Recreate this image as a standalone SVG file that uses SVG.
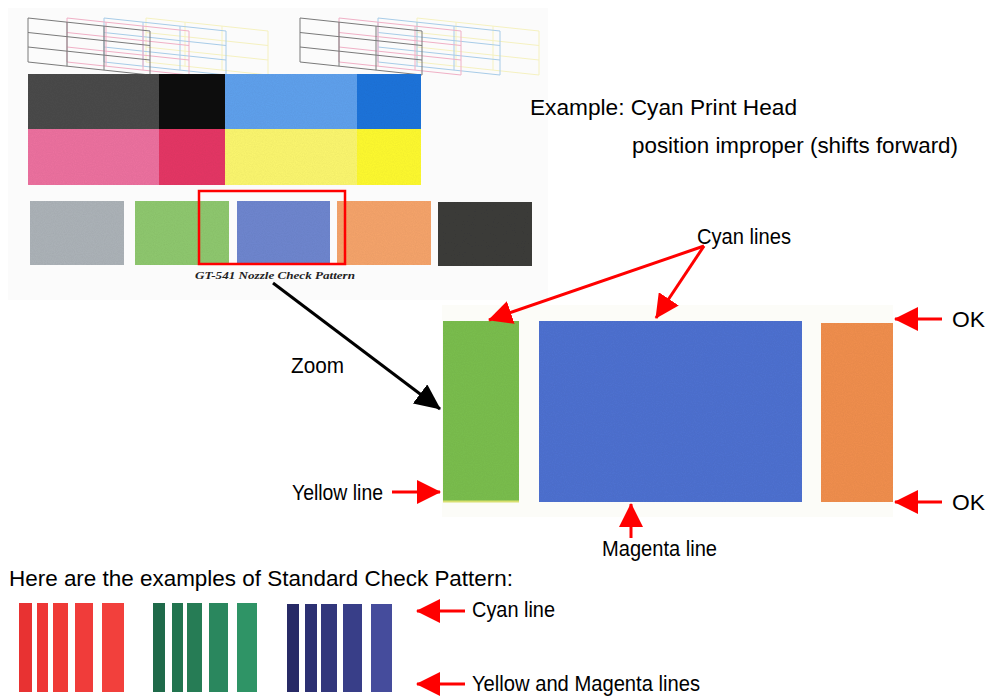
<svg xmlns="http://www.w3.org/2000/svg" xmlns:xlink="http://www.w3.org/1999/xlink" width="988" height="696" viewBox="0 0 988 696">
<style>
.t{font-family:"Liberation Sans",Arial,sans-serif;font-size:22px;fill:#000}
.lbl{font-family:"Liberation Serif","Times New Roman",serif;font-size:9.5px;font-weight:bold;font-style:italic;fill:#222}
.ra{stroke:#ff0000;stroke-width:3;fill:none}
.ba{stroke:#000;stroke-width:3;fill:none}
.gl{fill:none;stroke:currentColor;stroke-width:1}
</style>
<defs>
<marker id="mr" markerUnits="userSpaceOnUse" markerWidth="24" markerHeight="24" viewBox="0 0 24 24" refX="23" refY="12" orient="auto">
<path d="M0,0 L24,12 L0,24 z" fill="#ff0000"/>
</marker>
<marker id="mb" markerUnits="userSpaceOnUse" markerWidth="26" markerHeight="24" viewBox="0 0 26 24" refX="25" refY="12" orient="auto">
<path d="M0,0 L26,12 L0,24 z" fill="#000"/>
</marker>
<g id="grid" class="gl">
<path d="M0,0 L122,13 M0,14.5 L122,27.5 M0,29 L122,42 M0,44 L122,57"/>
<path d="M0,0 V44 M39,4.2 V48.2 M76,8.1 V52.1 M122,13 V57"/>
</g>
<filter id="noise" x="0" y="0" width="100%" height="100%">
<feTurbulence type="fractalNoise" baseFrequency="0.9" numOctaves="2" seed="3" result="n"/>
<feColorMatrix in="n" type="matrix" values="0 0 0 0 0  0 0 0 0 0  0 0 0 0 0  0 0 0 0.12 0" result="a"/>
<feComposite in="a" in2="SourceGraphic" operator="in" result="b"/>
<feMerge><feMergeNode in="SourceGraphic"/><feMergeNode in="b"/></feMerge>
</filter>
</defs>
<rect width="988" height="696" fill="#fff"/>

<g id="nozzle-check-print">
<rect x="8" y="8" width="540" height="292" fill="#fbfbfb"/>
<g id="grids-left">
<use xlink:href="#grid" x="146" y="18" style="color:#f5f1c0"/>
<use xlink:href="#grid" x="104" y="18" style="color:#a8cce8"/>
<use xlink:href="#grid" x="67" y="18" style="color:#f0b0c6"/>
<use xlink:href="#grid" x="28" y="18" style="color:#7a7a7a"/>
</g>
<g id="grids-right">
<use xlink:href="#grid" x="417" y="18" style="color:#f5f1c0"/>
<use xlink:href="#grid" x="378" y="18" style="color:#a8cce8"/>
<use xlink:href="#grid" x="339" y="18" style="color:#f0b0c6"/>
<use xlink:href="#grid" x="300" y="18" style="color:#7a7a7a"/>
</g>
<g id="color-blocks" filter="url(#noise)">
<rect x="28" y="74" width="131" height="55" fill="#4c4c4c"/>
<rect x="159" y="74" width="66" height="55" fill="#141414"/>
<rect x="225" y="74" width="132" height="55" fill="#60a2ee"/>
<rect x="357" y="74" width="64" height="55" fill="#2274dc"/>
<rect x="28" y="129" width="131" height="56" fill="#ee72a0"/>
<rect x="159" y="129" width="66" height="56" fill="#e63866"/>
<rect x="225" y="129" width="132" height="56" fill="#fdf870"/>
<rect x="357" y="129" width="64" height="56" fill="#fffb30"/>
</g>
<g id="patch-row" filter="url(#noise)">
<rect x="30" y="201" width="94" height="64" fill="#adb4b9"/>
<rect x="135" y="201" width="94" height="64" fill="#90c970"/>
<rect x="237" y="201" width="93" height="64" fill="#7087d0"/>
<rect x="337" y="201" width="94" height="64" fill="#f7a56c"/>
<rect x="438" y="202" width="94" height="64" fill="#3c3c3a"/>
</g>
<rect id="highlight-box" x="199" y="191" width="146" height="73" fill="none" stroke="#ff0000" stroke-width="2.5"/>
<text class="lbl" x="195" y="279" textLength="160" lengthAdjust="spacingAndGlyphs">GT-541 Nozzle Check Pattern</text>
</g>

<g id="example-title">
<text class="t" x="530" y="115" textLength="267" lengthAdjust="spacingAndGlyphs">Example: Cyan Print Head</text>
<text class="t" x="632" y="153" textLength="326" lengthAdjust="spacingAndGlyphs">position improper (shifts forward)</text>
</g>

<g id="zoomed-panel">
<rect x="442" y="305" width="451" height="212" fill="#fcfcf8"/>
<g filter="url(#noise)">
<rect x="443" y="321" width="76" height="181" fill="#7cbf50"/>
<rect x="539" y="321" width="263" height="181" fill="#4f72d2"/>
<rect x="821" y="323" width="72" height="179" fill="#f29050"/>
</g>
<line x1="443" y1="501.5" x2="519" y2="501.5" stroke="#d8e070" stroke-width="2"/>
</g>

<g id="standard-pattern">
<text class="t" x="9" y="586" textLength="504" lengthAdjust="spacingAndGlyphs">Here are the examples of Standard Check Pattern:</text>
<g id="red-bars">
<rect x="19" y="603" width="13" height="89" fill="#e83232"/>
<rect x="37" y="603" width="11" height="89" fill="#ee3636"/>
<rect x="53" y="603" width="15" height="89" fill="#ef3a36"/>
<rect x="75" y="603" width="18" height="89" fill="#f03c3a"/>
<rect x="102" y="603" width="22" height="89" fill="#f2403c"/>
</g>
<g id="green-bars">
<rect x="153" y="603" width="12" height="89" fill="#1f6a4a"/>
<rect x="172" y="603" width="11" height="89" fill="#22744f"/>
<rect x="187" y="603" width="15" height="89" fill="#267c55"/>
<rect x="209" y="603" width="19" height="89" fill="#2a875e"/>
<rect x="237" y="603" width="20" height="89" fill="#2f9466"/>
</g>
<g id="blue-bars">
<rect x="287" y="604" width="12" height="88" fill="#272a66"/>
<rect x="305" y="604" width="12" height="88" fill="#2c3072"/>
<rect x="321" y="604" width="16" height="88" fill="#32377c"/>
<rect x="343" y="604" width="19" height="88" fill="#383e88"/>
<rect x="371" y="604" width="21" height="88" fill="#454c9c"/>
</g>
</g>

<g id="labels">
<text class="t" x="697" y="244" textLength="94" lengthAdjust="spacingAndGlyphs">Cyan lines</text>
<text class="t" x="952" y="327" textLength="33" lengthAdjust="spacingAndGlyphs">OK</text>
<text class="t" x="952" y="510" textLength="33" lengthAdjust="spacingAndGlyphs">OK</text>
<text class="t" x="291" y="373" textLength="53" lengthAdjust="spacingAndGlyphs">Zoom</text>
<text class="t" x="292" y="500" textLength="91" lengthAdjust="spacingAndGlyphs">Yellow line</text>
<text class="t" x="602" y="556" textLength="115" lengthAdjust="spacingAndGlyphs">Magenta line</text>
<text class="t" x="472" y="617" textLength="83" lengthAdjust="spacingAndGlyphs">Cyan line</text>
<text class="t" x="472" y="691" textLength="228" lengthAdjust="spacingAndGlyphs">Yellow and Magenta lines</text>
</g>

<g id="connectors">
<line class="ba" x1="273" y1="283" x2="440" y2="409" marker-end="url(#mb)"/>
<line class="ra" x1="704" y1="246" x2="489" y2="320" marker-end="url(#mr)"/>
<line class="ra" x1="704" y1="246" x2="656" y2="318" marker-end="url(#mr)"/>
<line class="ra" x1="942" y1="319" x2="895" y2="319" marker-end="url(#mr)"/>
<line class="ra" x1="942" y1="502" x2="895" y2="502" marker-end="url(#mr)"/>
<line class="ra" x1="631" y1="538" x2="631" y2="504" marker-end="url(#mr)"/>
<line class="ra" x1="392" y1="492" x2="440" y2="492" marker-end="url(#mr)"/>
<line class="ra" x1="465" y1="611" x2="417" y2="611" marker-end="url(#mr)"/>
<line class="ra" x1="465" y1="684" x2="417" y2="684" marker-end="url(#mr)"/>
</g>
</svg>
